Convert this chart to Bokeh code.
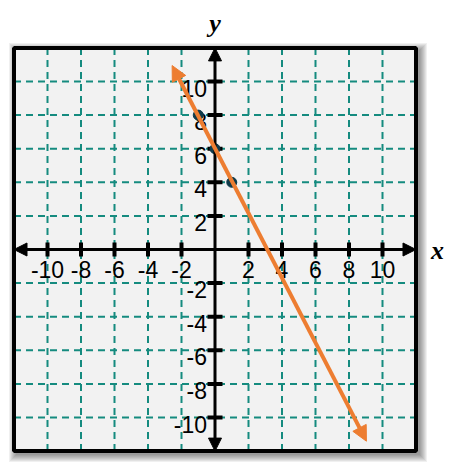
from bokeh.plotting import figure
from bokeh.models import Arrow, NormalHead
from bokeh.core.properties import value
from bokeh.embed import file_html
from bokeh.resources import INLINE

# ---- data ----
x_ticks = [-10, -8, -6, -4, -2, 2, 4, 6, 8, 10]
y_ticks = [-10, -8, -6, -4, -2, 2, 4, 6, 8, 10]
x_tick_labels = ["-10", "-8", "-6", "-4", "-2", "2", "4", "6", "8", "10"]
y_tick_labels = ["-10", "-8", "-6", "-4", "-2", "2", "4", "6", "8", "10"]
grid_values = [-10, -8, -6, -4, -2, 2, 4, 6, 8, 10]
axis_limit = 12
point_x = [-1, 0, 1]
point_y = [8, 6, 4]
line_x = [-2.56, 9.04]
line_y = [10.95, -11.41]

# ---- geometry (pixels per unit) ----
SX = 16.75
SY = 16.8
PX = 1.0 / SX
PY = 1.0 / SY
W, H = 460, 465
x0 = -214.5 / SX
y1 = 249.0 / SY

p = figure(width=W, height=H, x_range=(x0, x0 + W / SX), y_range=(y1 - H / SY, y1),
           output_backend="svg", toolbar_location=None,
           x_axis_location=None, y_axis_location=None, min_border=0)
p.grid.visible = False
p.outline_line_color = None
p.background_fill_color = "white"
p.border_fill_color = "white"

L = axis_limit
# shadow
for k in range(1, 9):
    p.quad(left=[-L + 3 * PX - k * PX], right=[L + 3 * PX + k * PX],
           bottom=[-L - 3 * PY - k * PY], top=[L - 3 * PY + k * PY],
           fill_color="black", fill_alpha=0.06, line_color=None)

# plot background
p.quad(left=[-L], right=[L], bottom=[-L], top=[L], fill_color="#f2f2f2", line_color=None)

# dashed grid
grid_color = "#158b7f"
p.segment(x0=grid_values, x1=grid_values, y0=[-L] * len(grid_values), y1=[L] * len(grid_values),
          line_color=grid_color, line_width=2, line_dash="7 5")
p.segment(x0=[-L] * len(grid_values), x1=[L] * len(grid_values), y0=grid_values, y1=grid_values,
          line_color=grid_color, line_width=2, line_dash="7 5")

# tick marks
p.segment(x0=x_ticks, x1=x_ticks, y0=[-7 * PY] * len(x_ticks), y1=[7 * PY] * len(x_ticks),
          line_color="black", line_width=4)
p.segment(x0=[-7.5 * PX] * len(y_ticks), x1=[7.5 * PX] * len(y_ticks), y0=y_ticks, y1=y_ticks,
          line_color="black", line_width=4)

# tick labels
p.text(x=x_ticks, y=[-19.5 * PY] * len(x_ticks), text=x_tick_labels,
       text_align="center", text_baseline="middle",
       text_font=value("Liberation Sans"), text_font_size="23px", text_color="black")
p.text(x=[-8 * PX] * len(y_ticks), y=[v - 6.5 * PY for v in y_ticks], text=y_tick_labels,
       text_align="right", text_baseline="middle",
       text_font=value("Liberation Sans"), text_font_size="23px", text_color="black")

# axis names
p.text(x=[0], y=[(249 - 23) * PY], text=["y"], text_align="center", text_baseline="alphabetic",
       text_font=value("Liberation Serif"), text_font_style="bold italic",
       text_font_size="26px", text_color="black")
p.text(x=[(437 - 214.5) * PX], y=[-0.5 * PY], text=["x"], text_align="center", text_baseline="alphabetic",
       text_font=value("Liberation Serif"), text_font_style="bold italic",
       text_font_size="26px", text_color="black")

# points
p.scatter(x=point_x, y=point_y, size=10, color="#0e3a4a")

# axes with arrowheads
def head(color, size):
    return NormalHead(size=size, fill_color=color, line_color=color, line_width=1)

p.add_layout(Arrow(start=head("black", 13), end=head("black", 13),
                   x_start=-L, y_start=0, x_end=L, y_end=0,
                   line_color="black", line_width=3))
p.add_layout(Arrow(start=head("black", 13), end=head("black", 13),
                   x_start=0, y_start=-L, x_end=0, y_end=L,
                   line_color="black", line_width=3))

# the line
orange = "#ED7D31"
p.add_layout(Arrow(start=head(orange, 15), end=head(orange, 15),
                   x_start=line_x[0], y_start=line_y[0], x_end=line_x[1], y_end=line_y[1],
                   line_color=orange, line_width=4))

# frame border on top
fr = p.quad(left=[-L], right=[L], bottom=[-L], top=[L], fill_color=None,
            line_color="black", line_width=4)
fr.level = "overlay"

open("out.html", "w").write(file_html(p, INLINE))
